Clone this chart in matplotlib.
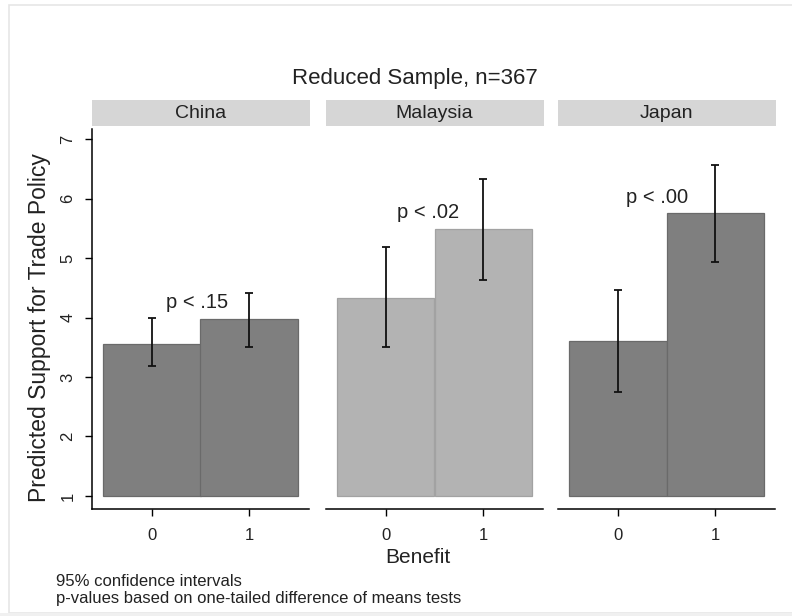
import matplotlib
matplotlib.use("Agg")
from matplotlib import pyplot as plt
from matplotlib.patches import Rectangle

# data
countries = ["China", "Malaysia", "Japan"]
benefit = [0, 1]
china_mean = [3.56, 3.97]
china_lo = [3.18, 3.50]
china_hi = [3.99, 4.41]
malaysia_mean = [4.33, 5.49]
malaysia_lo = [3.50, 4.63]
malaysia_hi = [5.19, 6.33]
japan_mean = [3.60, 5.76]
japan_lo = [2.75, 4.93]
japan_hi = [4.46, 6.56]
p_labels = ["p < .15", "p < .02", "p < .00"]
y_ticks = [1, 2, 3, 4, 5, 6, 7]

W, H = 792, 616
plt.rcParams['font.family'] = ['Liberation Sans', 'DejaVu Sans']
TXT = '#222222'


def fx(px):
    return px / W


def fy(py):
    return 1 - py / H


fig = plt.figure(figsize=(W / 100, H / 100), dpi=100)

# faint screenshot frame
fig.patches.append(Rectangle((fx(9), fy(613)), 1, fy(5) - fy(613), transform=fig.transFigure,
                             facecolor='none', edgecolor='#e6e6e6', lw=1.2))
fig.patches.append(Rectangle((0, 0), 1, fy(613), transform=fig.transFigure,
                             facecolor='#f0f0f0', edgecolor='none'))

panels = [
    (china_mean, china_lo, china_hi, '#7f7f7f', '#6a6a6a', (92, 309), (0.46, 4.16)),
    (malaysia_mean, malaysia_lo, malaysia_hi, '#b3b3b3', '#a2a2a2', (326, 543), (0.43, 5.67)),
    (japan_mean, japan_lo, japan_hi, '#7f7f7f', '#6a6a6a', (558, 775), (0.40, 5.93)),
]

top, bottom = 129, 509
for i, (mean, lo, hi, col, edge, (x0, x1), (lx, ly)) in enumerate(panels):
    ax = fig.add_axes([fx(x0), fy(bottom), fx(x1 - x0), fy(top) - fy(bottom)])
    heights = [m - 1 for m in mean]
    ax.bar(benefit, heights, width=1.0, bottom=1, color=col, edgecolor=edge, linewidth=0.9)
    yerr = [[m - l for m, l in zip(mean, lo)], [h - m for m, h in zip(mean, hi)]]
    ax.errorbar(benefit, mean, yerr=yerr, fmt='none', ecolor='#111111',
                elinewidth=1.3, capsize=3, capthick=1.3)
    ax.text(lx, ly, p_labels[i], ha='center', va='baseline', fontsize=14.5, color=TXT)
    ax.set_xlim(-0.61, 1.61)
    ax.set_ylim(0.78, 7.17)
    ax.set_xticks(benefit)
    ax.tick_params(axis='x', length=5, width=1, pad=9, labelsize=12, labelcolor=TXT)
    for s in ['top', 'right']:
        ax.spines[s].set_visible(False)
    ax.spines['bottom'].set_linewidth(1.1)
    if i == 0:
        ax.spines['left'].set_linewidth(1.1)
        ax.set_yticks(y_ticks)
        ax.tick_params(axis='y', length=5, width=1, pad=7, labelsize=12, labelcolor=TXT)
        for t in ax.get_yticklabels():
            t.set_rotation(90)
            t.set_va('center')
    else:
        ax.spines['left'].set_visible(False)
        ax.set_yticks([])

    # strip header
    fig.patches.append(Rectangle((fx(x0), fy(126)), fx(x1 - x0 + 1), fy(100) - fy(126),
                                 transform=fig.transFigure, facecolor='#d6d6d6', edgecolor='none'))
    fig.text(fx((x0 + x1) / 2), fy(113), countries[i], ha='center', va='center',
             fontsize=14, color=TXT)

fig.text(fx(40), fy(328), 'Predicted Support for Trade Policy', rotation=90, ha='center',
         va='center', fontsize=16.5, color=TXT)
fig.text(fx(418), fy(563), 'Benefit', ha='center', va='baseline', fontsize=15, color=TXT)
fig.text(fx(415), fy(84), 'Reduced Sample, n=367', ha='center', va='baseline', fontsize=16, color=TXT)
fig.text(fx(56), fy(586), '95% confidence intervals', ha='left', va='baseline', fontsize=12, color=TXT)
fig.text(fx(56), fy(603), 'p-values based on one-tailed difference of means tests', ha='left',
         va='baseline', fontsize=12, color=TXT)

fig.savefig('out.png', dpi=100)
